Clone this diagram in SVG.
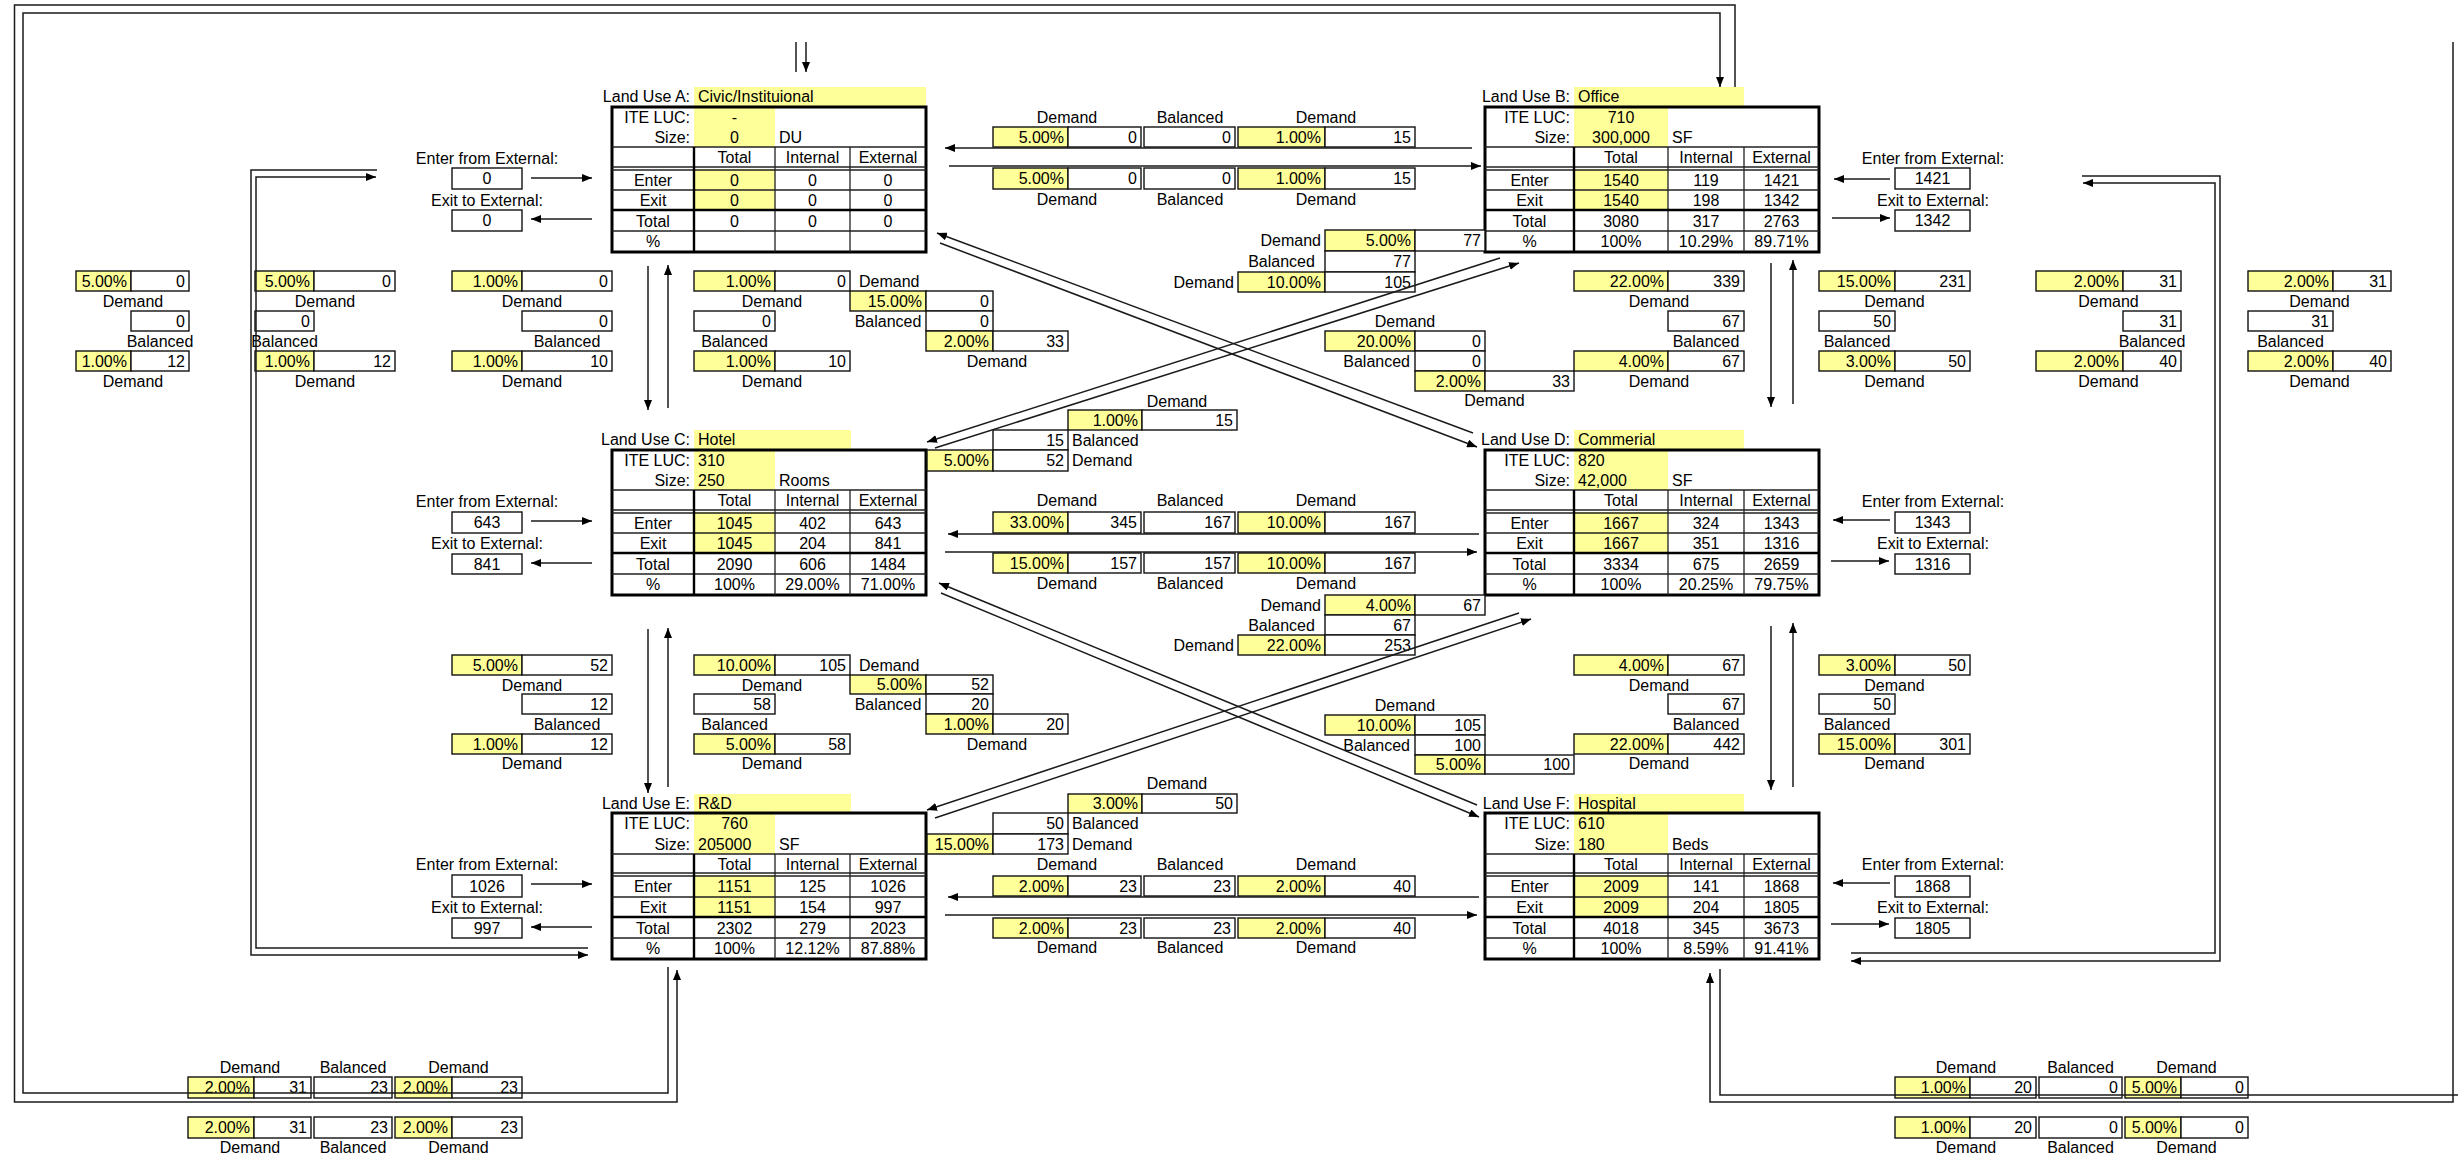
<svg xmlns="http://www.w3.org/2000/svg" width="2458" height="1160" viewBox="0 0 2458 1160">
<style>
text{font-family:"Liberation Sans",Arial,sans-serif;font-size:16px;fill:#000}
.m{text-anchor:middle}
.r{text-anchor:end}
.b{fill:#fff;stroke:#111;stroke-width:1.4}
.y{fill:#ffff99;stroke:#111;stroke-width:1.4}
.yf{fill:#ffff99}
.tl{stroke:#222;stroke-width:1.3;fill:none}
.tk{stroke:#000;stroke-width:3;fill:none}
.tm{stroke:#000;stroke-width:2.4;fill:none}
.cn{stroke:#1a1a1a;stroke-width:1.5;fill:none}
.ca{stroke:#1a1a1a;stroke-width:1.5;fill:none;marker-end:url(#ah)}
</style>
<defs>
<marker id="ah" viewBox="0 0 10 8" refX="10" refY="4" markerWidth="10" markerHeight="8" markerUnits="userSpaceOnUse" orient="auto"><path d="M0,0L10,4L0,8z" fill="#000"/></marker>
</defs>
<rect width="2458" height="1160" fill="#fff"/>

<!-- ===== Land Use A ===== -->
<g id="landuse-a" transform="translate(0,107)">
<rect class="yf" x="694" y="-20" width="232" height="19"/>
<text class="r" x="690" y="-5">Land Use A:</text>
<text x="698" y="-5">Civic/Instituional</text>
<rect class="yf" x="694" y="0" width="81" height="40"/>
<rect class="yf" x="694" y="62" width="81" height="41"/>
<rect class="tk" x="612" y="0" width="314" height="145"/>
<path class="tl" d="M612,40H926M612,60H926M612,63H926M612,83H926M612,124H926M775,40V145M850,40V145"/>
<path class="tm" d="M612,103H926M694,40V145"/>
<text class="r" x="690" y="16">ITE LUC:</text>
<text class="r" x="690" y="36">Size:</text>
<text class="m" x="734.5" y="16">-</text>
<text class="m" x="734.5" y="36">0</text>
<text x="779" y="36">DU</text>
<text class="m" x="734.5" y="56">Total</text><text class="m" x="812.5" y="56">Internal</text><text class="m" x="888" y="56">External</text>
<text class="m" x="653" y="79">Enter</text><text class="m" x="734.5" y="79">0</text><text class="m" x="812.5" y="79">0</text><text class="m" x="888" y="79">0</text>
<text class="m" x="653" y="99">Exit</text><text class="m" x="734.5" y="99">0</text><text class="m" x="812.5" y="99">0</text><text class="m" x="888" y="99">0</text>
<text class="m" x="653" y="119.5">Total</text><text class="m" x="734.5" y="119.5">0</text><text class="m" x="812.5" y="119.5">0</text><text class="m" x="888" y="119.5">0</text>
<text class="m" x="653" y="140">%</text>
<text class="m" x="487" y="56.5">Enter from External:</text>
<rect class="b" x="452" y="61" width="70" height="21"/><text class="m" x="487" y="77">0</text>
<text class="m" x="487" y="98.5">Exit to External:</text>
<rect class="b" x="452" y="103" width="70" height="21"/><text class="m" x="487" y="119">0</text>
</g>

<!-- ===== Land Use B ===== -->
<g id="landuse-b" transform="translate(0,107)">
<rect class="yf" x="1574" y="-20" width="170" height="19"/>
<text class="r" x="1570" y="-5">Land Use B:</text>
<text x="1578" y="-5">Office</text>
<rect class="yf" x="1574" y="0" width="94" height="40"/>
<rect class="yf" x="1574" y="62" width="94" height="41"/>
<rect class="tk" x="1485" y="0" width="334" height="145"/>
<path class="tl" d="M1485,40H1819M1485,60H1819M1485,63H1819M1485,83H1819M1485,124H1819M1668,40V145M1744,40V145"/>
<path class="tm" d="M1485,103H1819M1574,40V145"/>
<text class="r" x="1570" y="16">ITE LUC:</text>
<text class="r" x="1570" y="36">Size:</text>
<text class="m" x="1621" y="16">710</text>
<text class="m" x="1621" y="36">300,000</text>
<text x="1672" y="36">SF</text>
<text class="m" x="1621" y="56">Total</text><text class="m" x="1706" y="56">Internal</text><text class="m" x="1781.5" y="56">External</text>
<text class="m" x="1529.5" y="79">Enter</text><text class="m" x="1621" y="79">1540</text><text class="m" x="1706" y="79">119</text><text class="m" x="1781.5" y="79">1421</text>
<text class="m" x="1529.5" y="99">Exit</text><text class="m" x="1621" y="99">1540</text><text class="m" x="1706" y="99">198</text><text class="m" x="1781.5" y="99">1342</text>
<text class="m" x="1529.5" y="119.5">Total</text><text class="m" x="1621" y="119.5">3080</text><text class="m" x="1706" y="119.5">317</text><text class="m" x="1781.5" y="119.5">2763</text>
<text class="m" x="1529.5" y="140">%</text><text class="m" x="1621" y="140">100%</text><text class="m" x="1706" y="140">10.29%</text><text class="m" x="1781.5" y="140">89.71%</text>
<text class="m" x="1933" y="56.5">Enter from External:</text>
<rect class="b" x="1895" y="61" width="75" height="21"/><text class="m" x="1932.5" y="77">1421</text>
<text class="m" x="1933" y="98.5">Exit to External:</text>
<rect class="b" x="1895" y="103" width="75" height="21"/><text class="m" x="1932.5" y="119">1342</text>
</g>

<!-- ===== Land Use C ===== -->
<g id="landuse-c" transform="translate(0,450)">
<rect class="yf" x="694" y="-20" width="157" height="19"/>
<text class="r" x="690" y="-5">Land Use C:</text>
<text x="698" y="-5">Hotel</text>
<rect class="yf" x="694" y="0" width="81" height="40"/>
<rect class="yf" x="694" y="62" width="81" height="41"/>
<rect class="tk" x="612" y="0" width="314" height="145"/>
<path class="tl" d="M612,40H926M612,60H926M612,63H926M612,83H926M612,124H926M775,40V145M850,40V145"/>
<path class="tm" d="M612,103H926M694,40V145"/>
<text class="r" x="690" y="16">ITE LUC:</text>
<text class="r" x="690" y="36">Size:</text>
<text x="698" y="16">310</text>
<text x="698" y="36">250</text>
<text x="779" y="36">Rooms</text>
<text class="m" x="734.5" y="56">Total</text><text class="m" x="812.5" y="56">Internal</text><text class="m" x="888" y="56">External</text>
<text class="m" x="653" y="79">Enter</text><text class="m" x="734.5" y="79">1045</text><text class="m" x="812.5" y="79">402</text><text class="m" x="888" y="79">643</text>
<text class="m" x="653" y="99">Exit</text><text class="m" x="734.5" y="99">1045</text><text class="m" x="812.5" y="99">204</text><text class="m" x="888" y="99">841</text>
<text class="m" x="653" y="119.5">Total</text><text class="m" x="734.5" y="119.5">2090</text><text class="m" x="812.5" y="119.5">606</text><text class="m" x="888" y="119.5">1484</text>
<text class="m" x="653" y="140">%</text><text class="m" x="734.5" y="140">100%</text><text class="m" x="812.5" y="140">29.00%</text><text class="m" x="888" y="140">71.00%</text>
<text class="m" x="487" y="56.5">Enter from External:</text>
<rect class="b" x="452" y="62" width="70" height="21"/><text class="m" x="487" y="78">643</text>
<text class="m" x="487" y="98.5">Exit to External:</text>
<rect class="b" x="452" y="104" width="70" height="20"/><text class="m" x="487" y="119.5">841</text>
</g>

<!-- ===== Land Use D ===== -->
<g id="landuse-d" transform="translate(0,450)">
<rect class="yf" x="1574" y="-20" width="170" height="19"/>
<text class="r" x="1570" y="-5">Land Use D:</text>
<text x="1578" y="-5">Commerial</text>
<rect class="yf" x="1574" y="0" width="94" height="40"/>
<rect class="yf" x="1574" y="62" width="94" height="41"/>
<rect class="tk" x="1485" y="0" width="334" height="145"/>
<path class="tl" d="M1485,40H1819M1485,60H1819M1485,63H1819M1485,83H1819M1485,124H1819M1668,40V145M1744,40V145"/>
<path class="tm" d="M1485,103H1819M1574,40V145"/>
<text class="r" x="1570" y="16">ITE LUC:</text>
<text class="r" x="1570" y="36">Size:</text>
<text x="1578" y="16">820</text>
<text x="1578" y="36">42,000</text>
<text x="1672" y="36">SF</text>
<text class="m" x="1621" y="56">Total</text><text class="m" x="1706" y="56">Internal</text><text class="m" x="1781.5" y="56">External</text>
<text class="m" x="1529.5" y="79">Enter</text><text class="m" x="1621" y="79">1667</text><text class="m" x="1706" y="79">324</text><text class="m" x="1781.5" y="79">1343</text>
<text class="m" x="1529.5" y="99">Exit</text><text class="m" x="1621" y="99">1667</text><text class="m" x="1706" y="99">351</text><text class="m" x="1781.5" y="99">1316</text>
<text class="m" x="1529.5" y="119.5">Total</text><text class="m" x="1621" y="119.5">3334</text><text class="m" x="1706" y="119.5">675</text><text class="m" x="1781.5" y="119.5">2659</text>
<text class="m" x="1529.5" y="140">%</text><text class="m" x="1621" y="140">100%</text><text class="m" x="1706" y="140">20.25%</text><text class="m" x="1781.5" y="140">79.75%</text>
<text class="m" x="1933" y="56.5">Enter from External:</text>
<rect class="b" x="1895" y="62" width="75" height="21"/><text class="m" x="1932.5" y="78">1343</text>
<text class="m" x="1933" y="98.5">Exit to External:</text>
<rect class="b" x="1895" y="104" width="75" height="20"/><text class="m" x="1932.5" y="119.5">1316</text>
</g>

<!-- ===== Land Use E ===== -->
<g id="landuse-e" transform="translate(0,813)">
<rect class="yf" x="694" y="-19" width="157" height="19"/>
<text class="r" x="690" y="-4">Land Use E:</text>
<text x="698" y="-4">R&amp;D</text>
<rect class="yf" x="694" y="0" width="81" height="41"/>
<rect class="yf" x="694" y="62" width="81" height="42"/>
<rect class="tk" x="612" y="0" width="314" height="146"/>
<path class="tl" d="M612,41H926M612,60H926M612,63H926M612,84H926M612,125H926M775,41V146M850,41V146"/>
<path class="tm" d="M612,104H926M694,41V146"/>
<text class="r" x="690" y="16">ITE LUC:</text>
<text class="r" x="690" y="36.5">Size:</text>
<text class="m" x="734.5" y="16">760</text>
<text x="698" y="36.5">205000</text>
<text x="779" y="36.5">SF</text>
<text class="m" x="734.5" y="56.5">Total</text><text class="m" x="812.5" y="56.5">Internal</text><text class="m" x="888" y="56.5">External</text>
<text class="m" x="653" y="79">Enter</text><text class="m" x="734.5" y="79">1151</text><text class="m" x="812.5" y="79">125</text><text class="m" x="888" y="79">1026</text>
<text class="m" x="653" y="99.5">Exit</text><text class="m" x="734.5" y="99.5">1151</text><text class="m" x="812.5" y="99.5">154</text><text class="m" x="888" y="99.5">997</text>
<text class="m" x="653" y="120.5">Total</text><text class="m" x="734.5" y="120.5">2302</text><text class="m" x="812.5" y="120.5">279</text><text class="m" x="888" y="120.5">2023</text>
<text class="m" x="653" y="141">%</text><text class="m" x="734.5" y="141">100%</text><text class="m" x="812.5" y="141">12.12%</text><text class="m" x="888" y="141">87.88%</text>
<text class="m" x="487" y="56.5">Enter from External:</text>
<rect class="b" x="452" y="62" width="70" height="22"/><text class="m" x="487" y="78.5">1026</text>
<text class="m" x="487" y="99.5">Exit to External:</text>
<rect class="b" x="452" y="105" width="70" height="20"/><text class="m" x="487" y="120.5">997</text>
</g>

<!-- ===== Land Use F ===== -->
<g id="landuse-f" transform="translate(0,813)">
<rect class="yf" x="1574" y="-19" width="170" height="19"/>
<text class="r" x="1570" y="-4">Land Use F:</text>
<text x="1578" y="-4">Hospital</text>
<rect class="yf" x="1574" y="0" width="94" height="41"/>
<rect class="yf" x="1574" y="62" width="94" height="42"/>
<rect class="tk" x="1485" y="0" width="334" height="146"/>
<path class="tl" d="M1485,41H1819M1485,60H1819M1485,63H1819M1485,84H1819M1485,125H1819M1668,41V146M1744,41V146"/>
<path class="tm" d="M1485,104H1819M1574,41V146"/>
<text class="r" x="1570" y="16">ITE LUC:</text>
<text class="r" x="1570" y="36.5">Size:</text>
<text x="1578" y="16">610</text>
<text x="1578" y="36.5">180</text>
<text x="1672" y="36.5">Beds</text>
<text class="m" x="1621" y="56.5">Total</text><text class="m" x="1706" y="56.5">Internal</text><text class="m" x="1781.5" y="56.5">External</text>
<text class="m" x="1529.5" y="79">Enter</text><text class="m" x="1621" y="79">2009</text><text class="m" x="1706" y="79">141</text><text class="m" x="1781.5" y="79">1868</text>
<text class="m" x="1529.5" y="99.5">Exit</text><text class="m" x="1621" y="99.5">2009</text><text class="m" x="1706" y="99.5">204</text><text class="m" x="1781.5" y="99.5">1805</text>
<text class="m" x="1529.5" y="120.5">Total</text><text class="m" x="1621" y="120.5">4018</text><text class="m" x="1706" y="120.5">345</text><text class="m" x="1781.5" y="120.5">3673</text>
<text class="m" x="1529.5" y="141">%</text><text class="m" x="1621" y="141">100%</text><text class="m" x="1706" y="141">8.59%</text><text class="m" x="1781.5" y="141">91.41%</text>
<text class="m" x="1933" y="56.5">Enter from External:</text>
<rect class="b" x="1895" y="63" width="75" height="21"/><text class="m" x="1932.5" y="79">1868</text>
<text class="m" x="1933" y="99.5">Exit to External:</text>
<rect class="b" x="1895" y="105" width="75" height="20"/><text class="m" x="1932.5" y="120.5">1805</text>
</g>

<!-- ===== Horizontal flow tables ===== -->
<g id="flow-ab">
<text class="m" x="1067" y="122.5">Demand</text><text class="m" x="1190" y="122.5">Balanced</text><text class="m" x="1326" y="122.5">Demand</text>
<rect class="y" x="993" y="127" width="75" height="20"/><text class="r" x="1064" y="142.5">5.00%</text>
<rect class="b" x="1068" y="127" width="73" height="20"/><text class="r" x="1137" y="142.5">0</text>
<rect class="b" x="1144" y="127" width="91" height="20"/><text class="r" x="1231" y="142.5">0</text>
<rect class="y" x="1238" y="127" width="87" height="20"/><text class="r" x="1321" y="142.5">1.00%</text>
<rect class="b" x="1325" y="127" width="90" height="20"/><text class="r" x="1411" y="142.5">15</text>
<rect class="y" x="993" y="168" width="75" height="21"/><text class="r" x="1064" y="184">5.00%</text>
<rect class="b" x="1068" y="168" width="73" height="21"/><text class="r" x="1137" y="184">0</text>
<rect class="b" x="1144" y="168" width="91" height="21"/><text class="r" x="1231" y="184">0</text>
<rect class="y" x="1238" y="168" width="87" height="21"/><text class="r" x="1321" y="184">1.00%</text>
<rect class="b" x="1325" y="168" width="90" height="21"/><text class="r" x="1411" y="184">15</text>
<text class="m" x="1067" y="204.5">Demand</text><text class="m" x="1190" y="204.5">Balanced</text><text class="m" x="1326" y="204.5">Demand</text>
</g>

<g id="flow-cd">
<text class="m" x="1067" y="505.5">Demand</text><text class="m" x="1190" y="505.5">Balanced</text><text class="m" x="1326" y="505.5">Demand</text>
<rect class="y" x="993" y="512" width="75" height="21"/><text class="r" x="1064" y="528">33.00%</text>
<rect class="b" x="1068" y="512" width="73" height="21"/><text class="r" x="1137" y="528">345</text>
<rect class="b" x="1144" y="512" width="91" height="21"/><text class="r" x="1231" y="528">167</text>
<rect class="y" x="1238" y="512" width="87" height="21"/><text class="r" x="1321" y="528">10.00%</text>
<rect class="b" x="1325" y="512" width="90" height="21"/><text class="r" x="1411" y="528">167</text>
<rect class="y" x="993" y="553" width="75" height="20"/><text class="r" x="1064" y="568.5">15.00%</text>
<rect class="b" x="1068" y="553" width="73" height="20"/><text class="r" x="1137" y="568.5">157</text>
<rect class="b" x="1144" y="553" width="91" height="20"/><text class="r" x="1231" y="568.5">157</text>
<rect class="y" x="1238" y="553" width="87" height="20"/><text class="r" x="1321" y="568.5">10.00%</text>
<rect class="b" x="1325" y="553" width="90" height="20"/><text class="r" x="1411" y="568.5">167</text>
<text class="m" x="1067" y="588.5">Demand</text><text class="m" x="1190" y="588.5">Balanced</text><text class="m" x="1326" y="588.5">Demand</text>
</g>

<g id="flow-ef">
<text class="m" x="1067" y="869.5">Demand</text><text class="m" x="1190" y="869.5">Balanced</text><text class="m" x="1326" y="869.5">Demand</text>
<rect class="y" x="993" y="876" width="75" height="20"/><text class="r" x="1064" y="891.5">2.00%</text>
<rect class="b" x="1068" y="876" width="73" height="20"/><text class="r" x="1137" y="891.5">23</text>
<rect class="b" x="1144" y="876" width="91" height="20"/><text class="r" x="1231" y="891.5">23</text>
<rect class="y" x="1238" y="876" width="87" height="20"/><text class="r" x="1321" y="891.5">2.00%</text>
<rect class="b" x="1325" y="876" width="90" height="20"/><text class="r" x="1411" y="891.5">40</text>
<rect class="y" x="993" y="918" width="75" height="20"/><text class="r" x="1064" y="933.5">2.00%</text>
<rect class="b" x="1068" y="918" width="73" height="20"/><text class="r" x="1137" y="933.5">23</text>
<rect class="b" x="1144" y="918" width="91" height="20"/><text class="r" x="1231" y="933.5">23</text>
<rect class="y" x="1238" y="918" width="87" height="20"/><text class="r" x="1321" y="933.5">2.00%</text>
<rect class="b" x="1325" y="918" width="90" height="20"/><text class="r" x="1411" y="933.5">40</text>
<text class="m" x="1067" y="952.5">Demand</text><text class="m" x="1190" y="952.5">Balanced</text><text class="m" x="1326" y="952.5">Demand</text>
</g>

<!-- ===== Diagonal flow tables ===== -->
<g id="flow-cb">
<text class="m" x="1177" y="406.5">Demand</text>
<rect class="y" x="1068" y="410" width="74" height="20"/><text class="r" x="1138" y="425.5">1.00%</text>
<rect class="b" x="1142" y="410" width="95" height="20"/><text class="r" x="1233" y="425.5">15</text>
<rect class="b" x="993" y="430" width="75" height="20"/><text class="r" x="1064" y="445.5">15</text>
<text x="1072" y="445.5">Balanced</text>
<rect class="y" x="927" y="450" width="66" height="21"/><text class="r" x="989" y="466">5.00%</text>
<rect class="b" x="993" y="450" width="75" height="21"/><text class="r" x="1064" y="466">52</text>
<text x="1072" y="466">Demand</text>
</g>

<g id="flow-ed">
<text class="m" x="1177" y="788.5">Demand</text>
<rect class="y" x="1068" y="794" width="74" height="19"/><text class="r" x="1138" y="809">3.00%</text>
<rect class="b" x="1142" y="794" width="95" height="19"/><text class="r" x="1233" y="809">50</text>
<rect class="b" x="993" y="813" width="75" height="21"/><text class="r" x="1064" y="829">50</text>
<text x="1072" y="829">Balanced</text>
<rect class="y" x="927" y="834" width="66" height="20"/><text class="r" x="989" y="849.5">15.00%</text>
<rect class="b" x="993" y="834" width="75" height="20"/><text class="r" x="1064" y="849.5">173</text>
<text x="1072" y="849.5">Demand</text>
</g>

<g id="flow-bc-da">
<text class="r" x="1321" y="246">Demand</text>
<rect class="y" x="1325" y="230" width="90" height="21"/><text class="r" x="1411" y="246">5.00%</text>
<rect class="b" x="1415" y="230" width="70" height="21"/><text class="r" x="1481" y="246">77</text>
<text class="m" x="1281.5" y="266.5">Balanced</text>
<rect class="b" x="1325" y="251" width="90" height="21"/><text class="r" x="1411" y="266.5">77</text>
<text class="r" x="1234" y="287.5">Demand</text>
<rect class="y" x="1238" y="272" width="87" height="20"/><text class="r" x="1321" y="287.5">10.00%</text>
<rect class="b" x="1325" y="272" width="90" height="20"/><text class="r" x="1411" y="287.5">105</text>
</g>

<g id="flow-ad">
<text class="m" x="1405" y="326.5">Demand</text>
<rect class="y" x="1325" y="331" width="90" height="20"/><text class="r" x="1411" y="346.5">20.00%</text>
<rect class="b" x="1415" y="331" width="70" height="20"/><text class="r" x="1481" y="346.5">0</text>
<text class="r" x="1410" y="366.5">Balanced</text>
<rect class="b" x="1415" y="351" width="70" height="20"/><text class="r" x="1481" y="366.5">0</text>
<rect class="y" x="1415" y="371" width="70" height="20"/><text class="r" x="1481" y="386.5">2.00%</text>
<rect class="b" x="1485" y="371" width="89" height="20"/><text class="r" x="1570" y="386.5">33</text>
<text class="m" x="1494.5" y="405.5">Demand</text>
</g>

<g id="flow-de">
<text class="r" x="1321" y="610.5">Demand</text>
<rect class="y" x="1325" y="595" width="90" height="20"/><text class="r" x="1411" y="610.5">4.00%</text>
<rect class="b" x="1415" y="595" width="70" height="20"/><text class="r" x="1481" y="610.5">67</text>
<text class="m" x="1281.5" y="630.5">Balanced</text>
<rect class="b" x="1325" y="615" width="90" height="20"/><text class="r" x="1411" y="630.5">67</text>
<text class="r" x="1234" y="650.5">Demand</text>
<rect class="y" x="1238" y="635" width="87" height="20"/><text class="r" x="1321" y="650.5">22.00%</text>
<rect class="b" x="1325" y="635" width="90" height="20"/><text class="r" x="1411" y="650.5">253</text>
</g>

<g id="flow-cf">
<text class="m" x="1405" y="710.5">Demand</text>
<rect class="y" x="1325" y="715" width="90" height="20"/><text class="r" x="1411" y="730.5">10.00%</text>
<rect class="b" x="1415" y="715" width="70" height="20"/><text class="r" x="1481" y="730.5">105</text>
<text class="r" x="1410" y="750.5">Balanced</text>
<rect class="b" x="1415" y="735" width="70" height="20"/><text class="r" x="1481" y="750.5">100</text>
<rect class="y" x="1415" y="755" width="70" height="19"/><text class="r" x="1481" y="770">5.00%</text>
<rect class="b" x="1485" y="755" width="89" height="19"/><text class="r" x="1570" y="770">100</text>
</g>

<!-- ===== Vertical flow tables (top band) ===== -->
<g id="flow-ac">
<rect class="y" x="694" y="271" width="81" height="20"/><text class="r" x="771" y="286.5">1.00%</text>
<rect class="b" x="775" y="271" width="75" height="20"/><text class="r" x="846" y="286.5">0</text>
<text x="859" y="286.5">Demand</text>
<text class="m" x="772" y="306.5">Demand</text>
<rect class="b" x="694" y="311" width="81" height="20"/><text class="r" x="771" y="326.5">0</text>
<text class="m" x="734.5" y="346.5">Balanced</text>
<rect class="y" x="694" y="351" width="81" height="20"/><text class="r" x="771" y="366.5">1.00%</text>
<rect class="b" x="775" y="351" width="75" height="20"/><text class="r" x="846" y="366.5">10</text>
<text class="m" x="772" y="386.5">Demand</text>
<rect class="y" x="850" y="291" width="76" height="20"/><text class="r" x="922" y="306.5">15.00%</text>
<rect class="b" x="926" y="291" width="67" height="20"/><text class="r" x="989" y="306.5">0</text>
<text class="m" x="888" y="326.5">Balanced</text>
<rect class="b" x="926" y="311" width="67" height="20"/><text class="r" x="989" y="326.5">0</text>
<rect class="y" x="926" y="331" width="67" height="20"/><text class="r" x="989" y="346.5">2.00%</text>
<rect class="b" x="993" y="331" width="75" height="20"/><text class="r" x="1064" y="346.5">33</text>
<text class="m" x="997" y="366.5">Demand</text>
</g>

<g id="flow-a-left">
<rect class="y" x="76" y="271" width="55" height="20"/><text class="r" x="127" y="286.5">5.00%</text>
<rect class="b" x="131" y="271" width="58" height="20"/><text class="r" x="185" y="286.5">0</text>
<text class="m" x="133" y="306.5">Demand</text>
<rect class="b" x="131" y="311" width="58" height="20"/><text class="r" x="185" y="326.5">0</text>
<text class="m" x="160" y="346.5">Balanced</text>
<rect class="y" x="76" y="351" width="55" height="20"/><text class="r" x="127" y="366.5">1.00%</text>
<rect class="b" x="131" y="351" width="58" height="20"/><text class="r" x="185" y="366.5">12</text>
<text class="m" x="133" y="386.5">Demand</text>

<rect class="y" x="255" y="271" width="59" height="20"/><text class="r" x="310" y="286.5">5.00%</text>
<rect class="b" x="314" y="271" width="81" height="20"/><text class="r" x="391" y="286.5">0</text>
<text class="m" x="325" y="306.5">Demand</text>
<rect class="b" x="255" y="311" width="59" height="20"/><text class="r" x="310" y="326.5">0</text>
<text class="m" x="284.5" y="346.5">Balanced</text>
<rect class="y" x="255" y="351" width="59" height="20"/><text class="r" x="310" y="366.5">1.00%</text>
<rect class="b" x="314" y="351" width="81" height="20"/><text class="r" x="391" y="366.5">12</text>
<text class="m" x="325" y="386.5">Demand</text>

<rect class="y" x="452" y="271" width="70" height="20"/><text class="r" x="518" y="286.5">1.00%</text>
<rect class="b" x="522" y="271" width="90" height="20"/><text class="r" x="608" y="286.5">0</text>
<text class="m" x="532" y="306.5">Demand</text>
<rect class="b" x="522" y="311" width="90" height="20"/><text class="r" x="608" y="326.5">0</text>
<text class="m" x="567" y="346.5">Balanced</text>
<rect class="y" x="452" y="351" width="70" height="20"/><text class="r" x="518" y="366.5">1.00%</text>
<rect class="b" x="522" y="351" width="90" height="20"/><text class="r" x="608" y="366.5">10</text>
<text class="m" x="532" y="386.5">Demand</text>
</g>

<g id="flow-bd">
<rect class="y" x="1574" y="271" width="94" height="20"/><text class="r" x="1664" y="286.5">22.00%</text>
<rect class="b" x="1668" y="271" width="76" height="20"/><text class="r" x="1740" y="286.5">339</text>
<text class="m" x="1659" y="306.5">Demand</text>
<rect class="b" x="1668" y="311" width="76" height="20"/><text class="r" x="1740" y="326.5">67</text>
<text class="m" x="1706" y="346.5">Balanced</text>
<rect class="y" x="1574" y="351" width="94" height="20"/><text class="r" x="1664" y="366.5">4.00%</text>
<rect class="b" x="1668" y="351" width="76" height="20"/><text class="r" x="1740" y="366.5">67</text>
<text class="m" x="1659" y="386.5">Demand</text>
</g>

<g id="flow-b-right">
<rect class="y" x="1819" y="271" width="76" height="20"/><text class="r" x="1891" y="286.5">15.00%</text>
<rect class="b" x="1895" y="271" width="75" height="20"/><text class="r" x="1966" y="286.5">231</text>
<text class="m" x="1894.5" y="306.5">Demand</text>
<rect class="b" x="1819" y="311" width="76" height="20"/><text class="r" x="1891" y="326.5">50</text>
<text class="m" x="1857" y="346.5">Balanced</text>
<rect class="y" x="1819" y="351" width="76" height="20"/><text class="r" x="1891" y="366.5">3.00%</text>
<rect class="b" x="1895" y="351" width="75" height="20"/><text class="r" x="1966" y="366.5">50</text>
<text class="m" x="1894.5" y="386.5">Demand</text>

<rect class="y" x="2036" y="271" width="87" height="20"/><text class="r" x="2119" y="286.5">2.00%</text>
<rect class="b" x="2123" y="271" width="58" height="20"/><text class="r" x="2177" y="286.5">31</text>
<text class="m" x="2108.5" y="306.5">Demand</text>
<rect class="b" x="2123" y="311" width="58" height="20"/><text class="r" x="2177" y="326.5">31</text>
<text class="m" x="2152" y="346.5">Balanced</text>
<rect class="y" x="2036" y="351" width="87" height="20"/><text class="r" x="2119" y="366.5">2.00%</text>
<rect class="b" x="2123" y="351" width="58" height="20"/><text class="r" x="2177" y="366.5">40</text>
<text class="m" x="2108.5" y="386.5">Demand</text>

<rect class="y" x="2248" y="271" width="85" height="20"/><text class="r" x="2329" y="286.5">2.00%</text>
<rect class="b" x="2333" y="271" width="58" height="20"/><text class="r" x="2387" y="286.5">31</text>
<text class="m" x="2319.5" y="306.5">Demand</text>
<rect class="b" x="2248" y="311" width="85" height="20"/><text class="r" x="2329" y="326.5">31</text>
<text class="m" x="2290.5" y="346.5">Balanced</text>
<rect class="y" x="2248" y="351" width="85" height="20"/><text class="r" x="2329" y="366.5">2.00%</text>
<rect class="b" x="2333" y="351" width="58" height="20"/><text class="r" x="2387" y="366.5">40</text>
<text class="m" x="2319.5" y="386.5">Demand</text>
</g>

<!-- ===== Vertical flow tables (lower band) ===== -->
<g id="flow-ce">
<rect class="y" x="452" y="655" width="70" height="20"/><text class="r" x="518" y="670.5">5.00%</text>
<rect class="b" x="522" y="655" width="90" height="20"/><text class="r" x="608" y="670.5">52</text>
<text class="m" x="532" y="690.5">Demand</text>
<rect class="b" x="522" y="694" width="90" height="20"/><text class="r" x="608" y="709.5">12</text>
<text class="m" x="567" y="729.5">Balanced</text>
<rect class="y" x="452" y="734" width="70" height="20"/><text class="r" x="518" y="749.5">1.00%</text>
<rect class="b" x="522" y="734" width="90" height="20"/><text class="r" x="608" y="749.5">12</text>
<text class="m" x="532" y="768.5">Demand</text>

<rect class="y" x="694" y="655" width="81" height="20"/><text class="r" x="771" y="670.5">10.00%</text>
<rect class="b" x="775" y="655" width="75" height="20"/><text class="r" x="846" y="670.5">105</text>
<text x="859" y="670.5">Demand</text>
<text class="m" x="772" y="690.5">Demand</text>
<rect class="b" x="694" y="694" width="81" height="20"/><text class="r" x="771" y="709.5">58</text>
<text class="m" x="734.5" y="729.5">Balanced</text>
<rect class="y" x="694" y="734" width="81" height="20"/><text class="r" x="771" y="749.5">5.00%</text>
<rect class="b" x="775" y="734" width="75" height="20"/><text class="r" x="846" y="749.5">58</text>
<text class="m" x="772" y="768.5">Demand</text>
<rect class="y" x="850" y="675" width="76" height="19"/><text class="r" x="922" y="690">5.00%</text>
<rect class="b" x="926" y="675" width="67" height="19"/><text class="r" x="989" y="690">52</text>
<text class="m" x="888" y="709.5">Balanced</text>
<rect class="b" x="926" y="694" width="67" height="20"/><text class="r" x="989" y="709.5">20</text>
<rect class="y" x="926" y="714" width="67" height="20"/><text class="r" x="989" y="729.5">1.00%</text>
<rect class="b" x="993" y="714" width="75" height="20"/><text class="r" x="1064" y="729.5">20</text>
<text class="m" x="997" y="749.5">Demand</text>
</g>

<g id="flow-df">
<rect class="y" x="1574" y="655" width="94" height="20"/><text class="r" x="1664" y="670.5">4.00%</text>
<rect class="b" x="1668" y="655" width="76" height="20"/><text class="r" x="1740" y="670.5">67</text>
<text class="m" x="1659" y="690.5">Demand</text>
<rect class="b" x="1668" y="694" width="76" height="20"/><text class="r" x="1740" y="709.5">67</text>
<text class="m" x="1706" y="729.5">Balanced</text>
<rect class="y" x="1574" y="734" width="94" height="20"/><text class="r" x="1664" y="749.5">22.00%</text>
<rect class="b" x="1668" y="734" width="76" height="20"/><text class="r" x="1740" y="749.5">442</text>
<text class="m" x="1659" y="768.5">Demand</text>

<rect class="y" x="1819" y="655" width="76" height="20"/><text class="r" x="1891" y="670.5">3.00%</text>
<rect class="b" x="1895" y="655" width="75" height="20"/><text class="r" x="1966" y="670.5">50</text>
<text class="m" x="1894.5" y="690.5">Demand</text>
<rect class="b" x="1819" y="694" width="76" height="20"/><text class="r" x="1891" y="709.5">50</text>
<text class="m" x="1857" y="729.5">Balanced</text>
<rect class="y" x="1819" y="734" width="76" height="20"/><text class="r" x="1891" y="749.5">15.00%</text>
<rect class="b" x="1895" y="734" width="75" height="20"/><text class="r" x="1966" y="749.5">301</text>
<text class="m" x="1894.5" y="768.5">Demand</text>
</g>

<!-- ===== Bottom flow tables ===== -->
<g id="flow-eb">
<text class="m" x="250" y="1072.5">Demand</text><text class="m" x="353" y="1072.5">Balanced</text><text class="m" x="458.5" y="1072.5">Demand</text>
<rect class="y" x="188" y="1077" width="66" height="21"/><text class="r" x="250" y="1093">2.00%</text>
<rect class="b" x="254" y="1077" width="57" height="21"/><text class="r" x="307" y="1093">31</text>
<rect class="b" x="314" y="1077" width="78" height="21"/><text class="r" x="388" y="1093">23</text>
<rect class="y" x="395" y="1077" width="57" height="21"/><text class="r" x="448" y="1093">2.00%</text>
<rect class="b" x="452" y="1077" width="70" height="21"/><text class="r" x="518" y="1093">23</text>
<rect class="y" x="188" y="1117" width="66" height="21"/><text class="r" x="250" y="1133">2.00%</text>
<rect class="b" x="254" y="1117" width="57" height="21"/><text class="r" x="307" y="1133">31</text>
<rect class="b" x="314" y="1117" width="78" height="21"/><text class="r" x="388" y="1133">23</text>
<rect class="y" x="395" y="1117" width="57" height="21"/><text class="r" x="448" y="1133">2.00%</text>
<rect class="b" x="452" y="1117" width="70" height="21"/><text class="r" x="518" y="1133">23</text>
<text class="m" x="250" y="1152.5">Demand</text><text class="m" x="353" y="1152.5">Balanced</text><text class="m" x="458.5" y="1152.5">Demand</text>
</g>

<g id="flow-fa">
<text class="m" x="1966" y="1072.5">Demand</text><text class="m" x="2080.5" y="1072.5">Balanced</text><text class="m" x="2186.5" y="1072.5">Demand</text>
<rect class="y" x="1895" y="1077" width="75" height="21"/><text class="r" x="1966" y="1093">1.00%</text>
<rect class="b" x="1970" y="1077" width="66" height="21"/><text class="r" x="2032" y="1093">20</text>
<rect class="b" x="2039" y="1077" width="83" height="21"/><text class="r" x="2118" y="1093">0</text>
<rect class="y" x="2125" y="1077" width="56" height="21"/><text class="r" x="2177" y="1093">5.00%</text>
<rect class="b" x="2181" y="1077" width="67" height="21"/><text class="r" x="2244" y="1093">0</text>
<rect class="y" x="1895" y="1117" width="75" height="21"/><text class="r" x="1966" y="1133">1.00%</text>
<rect class="b" x="1970" y="1117" width="66" height="21"/><text class="r" x="2032" y="1133">20</text>
<rect class="b" x="2039" y="1117" width="83" height="21"/><text class="r" x="2118" y="1133">0</text>
<rect class="y" x="2125" y="1117" width="56" height="21"/><text class="r" x="2177" y="1133">5.00%</text>
<rect class="b" x="2181" y="1117" width="67" height="21"/><text class="r" x="2244" y="1133">0</text>
<text class="m" x="1966" y="1152.5">Demand</text><text class="m" x="2080.5" y="1152.5">Balanced</text><text class="m" x="2186.5" y="1152.5">Demand</text>
</g>

<!-- ===== Connectors ===== -->
<g id="connectors">
<path class="ca" d="M531,178H592"/>
<path class="ca" d="M592,219H531"/>
<path class="ca" d="M531,521H592"/>
<path class="ca" d="M592,563H531"/>
<path class="ca" d="M531,884H592"/>
<path class="ca" d="M592,927H531"/>
<path class="ca" d="M1890,179H1834"/>
<path class="ca" d="M1832,218H1890"/>
<path class="ca" d="M1890,520H1833"/>
<path class="ca" d="M1831,561H1889"/>
<path class="ca" d="M1890,883H1833"/>
<path class="ca" d="M1831,924H1889"/>

<path class="ca" d="M1472,148H945"/>
<path class="ca" d="M949,166H1481"/>
<path class="ca" d="M1479,534H948"/>
<path class="ca" d="M945,552H1477"/>
<path class="ca" d="M1479,897H948"/>
<path class="ca" d="M945,915H1477"/>

<path class="ca" d="M648,266V410"/>
<path class="ca" d="M668,408V265"/>
<path class="ca" d="M648,629V793"/>
<path class="ca" d="M668,787V628"/>
<path class="ca" d="M1771,263V407"/>
<path class="ca" d="M1793,404V260"/>
<path class="ca" d="M1771,626V790"/>
<path class="ca" d="M1793,787V623"/>

<path class="ca" d="M1473,433L937,233"/>
<path class="ca" d="M940,243L1477,447"/>
<path class="ca" d="M1500,258L927,442"/>
<path class="ca" d="M935,448L1519,263"/>
<path class="ca" d="M1477,805L939,583"/>
<path class="ca" d="M941,593L1479,817"/>
<path class="ca" d="M1519,613L927,810"/>
<path class="ca" d="M935,818L1531,619"/>

<path class="ca" d="M377,170H251V955H588"/>
<path class="ca" d="M588,948H256V177H376"/>
<path class="ca" d="M668,967V1093H23V13H1720V87"/>
<path class="ca" d="M1735,87V5H14.5V1102H677V970"/>
<path class="ca" d="M1851,953H2215V183H2083"/>
<path class="ca" d="M2082,176H2220V961H1851"/>
<path class="cn" d="M796,72V42"/>
<path class="ca" d="M806,42V72"/>
<path class="cn" d="M1720,969V1095H2458"/>
<path class="ca" d="M2453,42V1102H1710V973"/>
</g>
</svg>
